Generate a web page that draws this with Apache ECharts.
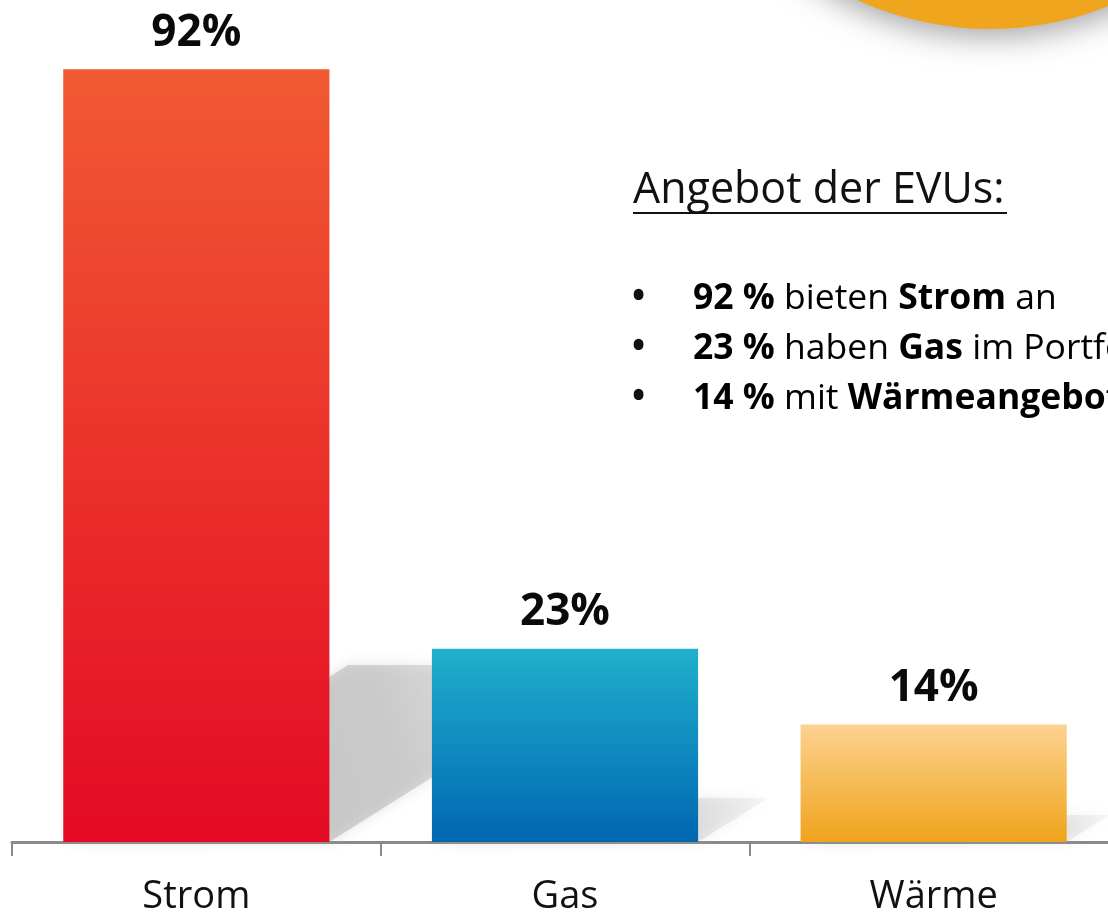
<!DOCTYPE html>
<html>
<head>
<meta charset="utf-8">
<script src="https://cdn.jsdelivr.net/npm/echarts@6/dist/echarts.min.js"></script>
<style>
html,body{margin:0;padding:0;background:#fff;}
#c{width:1108px;height:912px;}
</style>
</head>
<body>
<div id="c"></div>
<script>
const categories = ['Strom', 'Gas', 'Wärme'];
const values = [92, 23, 14];
const valueLabels = ['92%', '23%', '14%'];
const barTopColors = ['#F15A33', '#20B0CD', '#FCD291'];
const barBottomColors = ['#E40A24', '#0066B1', '#F0A31C'];
const titleText = 'Angebot der EVUs:';
const bulletLines = [
  ['92 %', ' bieten ', 'Strom', ' an'],
  ['23 %', ' haben ', 'Gas', ' im Portfolio'],
  ['14 %', ' mit ', 'Wärmeangebot', '']
];

const FONT = '"Open Sans", "Noto Sans", sans-serif';
const chart = echarts.init(document.getElementById('c'), null, {renderer: 'canvas'});

const barData = values.map((v, i) => ({
  value: v,
  itemStyle: {
    color: new echarts.graphic.LinearGradient(0, 0, 0, 1, [
      {offset: 0, color: barTopColors[i]},
      {offset: 1, color: barBottomColors[i]}
    ])
  },
  label: {formatter: valueLabels[i]}
}));

const BAR_RATIO = 0.722;

function renderShadow(params, api) {
  const idx = api.value(0);
  const val = api.value(1);
  const base = api.coord([idx, 0]);
  const top = api.coord([idx, val]);
  const bw = api.size([1, 0])[0] * BAR_RATIO;
  const x0 = base[0] - bw / 2;
  const h = base[1] - top[1];
  const sh = h * 0.229;
  const dx = sh / 0.63;
  return {
    type: 'polygon',
    shape: {points: [
      [x0 + 4, base[1]],
      [x0 + bw, base[1]],
      [x0 + bw + dx, base[1] - sh],
      [x0 + dx + 4, base[1] - sh]
    ]},
    style: {
      fill: new echarts.graphic.LinearGradient(0, 1, 1, 0, [
        {offset: 0, color: 'rgba(160,160,160,0.55)'},
        {offset: 0.6, color: 'rgba(175,175,175,0.5)'},
        {offset: 1, color: 'rgba(200,200,200,0.15)'}
      ]),
      shadowBlur: 14,
      shadowColor: 'rgba(170,170,170,0.6)'
    }
  };
}

const richStyles = {
  b: {fontFamily: FONT, fontWeight: 'bold', fontSize: 35.5, color: '#111'},
  n: {fontFamily: FONT, fontWeight: 'normal', fontSize: 35.5, color: '#111'}
};

const graphics = [
  {
    type: 'circle',
    shape: {cx: 990, cy: -290, r: 319},
    style: {fill: '#F0A51F', shadowBlur: 30, shadowColor: 'rgba(0,0,0,0.35)', shadowOffsetY: 8},
    z: 10
  },
  {
    type: 'text',
    left: 633, top: 169,
    style: {text: titleText, font: '43px ' + FONT, fill: '#111'},
    z: 10
  },
  {
    type: 'rect',
    shape: {x: 633, y: 212, width: 374, height: 2},
    style: {fill: '#111'},
    z: 10
  }
];
bulletLines.forEach((parts, i) => {
  const y = 281 + i * 50;
  graphics.push({
    type: 'text', left: 632, top: y,
    style: {text: '•', font: 'bold 35px ' + FONT, fill: '#111'}, z: 10
  });
  graphics.push({
    type: 'text', left: 693, top: y,
    style: {
      text: '{b|' + parts[0] + '}{n|' + parts[1] + '}{b|' + parts[2] + '}{n|' + parts[3] + '}',
      rich: richStyles
    },
    z: 10
  });
});

chart.setOption({
  animation: false,
  backgroundColor: '#ffffff',
  grid: {left: 12, width: 1106, top: 2, bottom: 70, containLabel: false, outerBoundsMode: 'none'},
  xAxis: {
    type: 'category',
    data: categories,
    axisLine: {lineStyle: {color: '#8a8a8a', width: 3}},
    axisTick: {show: true, length: 14, lineStyle: {color: '#8a8a8a', width: 2}},
    axisLabel: {fontFamily: FONT, fontSize: 38, color: '#111', margin: 36}
  },
  yAxis: {
    type: 'value', min: 0, max: 100, show: false,
    splitLine: {show: false}
  },
  series: [
    {
      type: 'custom',
      renderItem: renderShadow,
      data: values.map((v, i) => [i, v]),
      z: 1,
      silent: true
    },
    {
      type: 'bar',
      data: barData,
      barWidth: (BAR_RATIO * 100) + '%',
      z: 3,
      label: {
        show: true, position: 'top', distance: 14,
        fontFamily: FONT, fontWeight: 'bold', fontSize: 44, color: '#0a0a0a'
      }
    }
  ],
  graphic: graphics
});
</script>
</body>
</html>
